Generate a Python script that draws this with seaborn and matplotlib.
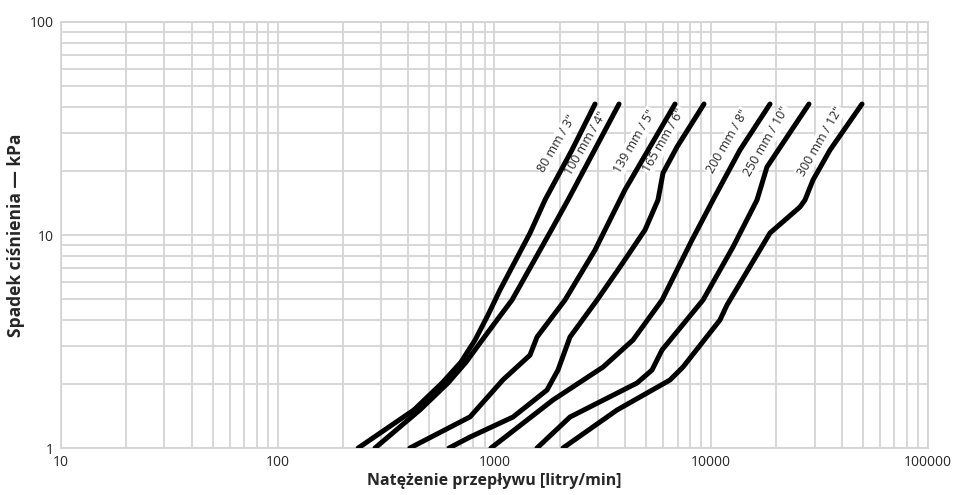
import pandas as pd
import seaborn as sns
import matplotlib.pyplot as plt
import matplotlib.ticker as mticker

# pressure drop curves (flow l/min, drop kPa)
pipes = ['80 mm / 3"', '100 mm / 4"', '139 mm / 5"', '165 mm / 6"',
         '200 mm / 8"', '250 mm / 10"', '300 mm / 12"']

flow_80 = [235, 425, 573, 700, 813, 933, 1060, 1458, 1710, 2279, 2909]
dp_80 = [1, 1.51, 2.02, 2.53, 3.21, 4.21, 5.52, 10.2, 14.6, 25.1, 41.2]

flow_100 = [281, 453, 610, 739, 857, 1027, 1204, 1862, 2183, 3755]
dp_100 = [1, 1.51, 2.02, 2.53, 3.11, 3.99, 4.95, 10.9, 14.6, 41.2]

flow_139 = [407, 771, 1094, 1458, 1571, 2114, 2909, 4000, 6806]
dp_139 = [1, 1.40, 2.09, 2.73, 3.32, 4.95, 8.5, 16.3, 41.2]

flow_165 = [617, 771, 1217, 1747, 1963, 2230, 2972, 3793, 4947, 5680, 5991, 6951, 9261]
dp_165 = [1, 1.126, 1.398, 1.872, 2.323, 3.32, 4.95, 7.08, 10.56, 14.6, 19.55, 25.9, 41.2]

flow_200 = [964, 1862, 3170, 4355, 5928, 8149, 10188, 13570, 18670]
dp_200 = [1, 1.681, 2.40, 3.214, 4.95, 9.47, 14.6, 25.06, 41.2]

flow_250 = [1571, 2230, 4545, 5329, 5928, 9161, 12600, 16260, 18080, 28250]
dp_250 = [1, 1.398, 2.019, 2.323, 2.885, 4.95, 8.78, 14.6, 20.86, 41.2]

flow_300 = [2070, 3675, 6452, 7408, 10970, 11820, 18670, 25670, 27070, 29480, 35320, 49620]
dp_300 = [1, 1.508, 2.086, 2.40, 3.99, 4.69, 10.22, 13.54, 14.6, 18.12, 25.06, 41.2]

flows = [flow_80, flow_100, flow_139, flow_165, flow_200, flow_250, flow_300]
drops = [dp_80, dp_100, dp_139, dp_165, dp_200, dp_250, dp_300]

# label centre (flow, kPa) for each curve name
label_flow = [1940, 2650, 4449, 6053, 11950, 18080, 31760]
label_dp = [27.0, 27.0, 27.6, 27.9, 27.4, 27.4, 27.4]

x_ticks = [10, 100, 1000, 10000, 100000]
y_ticks = [1, 10, 100]

rows = []
for name, fl, dp in zip(pipes, flows, drops):
    for f, d in zip(fl, dp):
        rows.append({"pipe": name, "flow": f, "dp": d})
df = pd.DataFrame(rows)

sns.set_style("white")
plt.rcParams['font.family'] = ['Open Sans', 'DejaVu Sans']

grid_col = "#d4d4d4"
fig = plt.figure(figsize=(9.55, 4.95), dpi=100)
ax = fig.add_axes([0.0639, 0.0949, 0.9078, 0.8607])
ax.set_xscale("log")
ax.set_yscale("log")

sns.lineplot(data=df, x="flow", y="dp", units="pipe", estimator=None, sort=False,
             color="black", lw=3.6, ax=ax, legend=False, zorder=3)

for name, lf, ld in zip(pipes, label_flow, label_dp):
    ax.text(lf, ld, name, rotation=60, ha="center", va="center", fontsize=9,
            zorder=2, rotation_mode="anchor",
            bbox=dict(facecolor="white", edgecolor="none", pad=0.8))

ax.set_xlim(10, 100000)
ax.set_ylim(1, 100)
ax.set_xticks(x_ticks)
ax.set_yticks(y_ticks)
fmt = mticker.FuncFormatter(lambda v, _: f"{v:g}")
ax.xaxis.set_major_formatter(fmt)
ax.yaxis.set_major_formatter(fmt)
ax.xaxis.set_minor_formatter(mticker.NullFormatter())
ax.yaxis.set_minor_formatter(mticker.NullFormatter())
ax.grid(True, which="both", color=grid_col, lw=1.3, zorder=0)
ax.set_axisbelow(True)
ax.tick_params(which="major", length=3, color=grid_col, width=1.3, labelsize=10, pad=2)
ax.tick_params(which="minor", length=0)
for s in ax.spines.values():
    s.set_color(grid_col)
    s.set_linewidth(1.3)

ax.set_xlabel("Natężenie przepływu [litry/min]", fontsize=11.5, fontweight="bold", labelpad=2)
ax.set_ylabel("Spadek ciśnienia — kPa", fontsize=12.5, fontweight="bold", labelpad=4)

fig.savefig("out.png", dpi=100)
